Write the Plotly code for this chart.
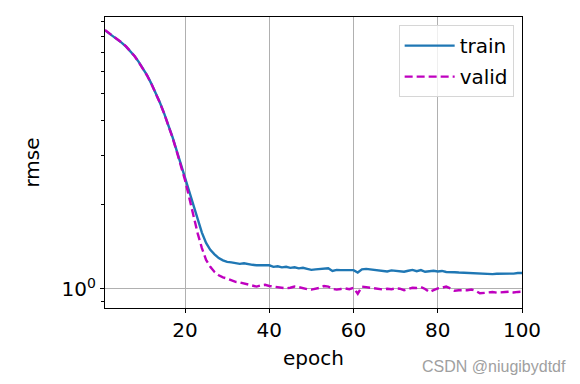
import plotly.graph_objects as go

epochs = list(range(1, 101))

train_rmse = [
    8.40, 8.20, 8.00, 7.80, 7.58, 7.35, 7.08, 6.80, 6.48, 6.15,
    5.80, 5.42, 5.04, 4.65, 4.26, 3.88, 3.50, 3.13, 2.79, 2.48,
    2.22, 1.98, 1.77, 1.59, 1.46, 1.38, 1.33, 1.29, 1.265, 1.25,
    1.245, 1.24, 1.23, 1.235, 1.225, 1.22, 1.215, 1.215, 1.21, 1.215,
    1.20, 1.205, 1.195, 1.20, 1.19, 1.195, 1.185, 1.19, 1.18, 1.17,
    1.175, 1.18, 1.185, 1.185, 1.16, 1.17, 1.168, 1.17, 1.165, 1.168,
    1.145, 1.175, 1.18, 1.175, 1.172, 1.17, 1.16, 1.155, 1.165, 1.16,
    1.158, 1.152, 1.162, 1.17, 1.158, 1.168, 1.152, 1.155, 1.162, 1.155,
    1.16, 1.15, 1.152, 1.148, 1.145, 1.143, 1.14, 1.138, 1.135, 1.13,
    1.132, 1.128, 1.13, 1.133, 1.132, 1.135, 1.136, 1.135, 1.14, 1.14,
]

valid_rmse = [
    8.42, 8.21, 8.02, 7.82, 7.59, 7.36, 7.09, 6.80, 6.47, 6.14,
    5.79, 5.41, 5.03, 4.64, 4.25, 3.87, 3.49, 3.11, 2.76, 2.45,
    2.12, 1.82, 1.58, 1.40, 1.27, 1.20, 1.15, 1.12, 1.10, 1.09,
    1.075, 1.06, 1.055, 1.045, 1.035, 1.025, 1.02, 1.03, 1.035, 1.025,
    1.02, 1.015, 1.01, 1.005, 1.01, 1.02, 1.015, 1.005, 0.998, 0.995,
    1.0, 1.01, 1.025, 1.02, 1.0, 0.995, 1.0, 1.005, 0.998, 1.01,
    0.962, 1.02, 1.015, 1.01, 1.005, 1.0, 0.995, 1.002, 0.998, 1.005,
    1.002, 0.99, 1.0, 1.01, 1.008, 1.015, 1.0, 0.975, 0.99, 1.005,
    1.01, 1.02, 1.005, 0.985, 0.99, 0.988, 0.99, 0.995, 0.985, 0.965,
    0.97, 0.972, 0.975, 0.97, 0.975, 0.975, 0.978, 0.972, 0.976, 0.978,
]

x_ticks = [20, 40, 60, 80, 100]
y_major = [1]
y_major_text = ["10<sup>0</sup>"]
y_minor = [0.9, 2, 3, 4, 5, 6, 7, 8, 9]

FONT = "DejaVu Sans"

fig = go.Figure()
fig.add_trace(go.Scatter(
    x=epochs, y=train_rmse, mode="lines", name="train",
    line=dict(color="#1f77b4", width=2.4), legendgroup="a",
))
fig.add_trace(go.Scatter(
    x=epochs, y=valid_rmse, mode="lines", name="valid",
    line=dict(color="#bf00bf", width=2.4, dash="8px,4px"), legendgroup="b",
))

# page body adds an 8px offset; plot area targeted at x 105-522, y 17-308
fig.update_layout(
    width=580, height=384,
    margin=dict(l=97, r=66, t=9, b=84, autoexpand=False),
    paper_bgcolor="white", plot_bgcolor="white",
    font=dict(family=FONT, size=20, color="black"),
    showlegend=True,
    legend=dict(
        x=0.98, y=0.972, xanchor="right", yanchor="top",
        bgcolor="rgba(255,255,255,0.8)", bordercolor="#d6d6d6", borderwidth=1,
        font=dict(family=FONT, size=20), traceorder="grouped", tracegroupgap=2,
        itemwidth=50,
    ),
    xaxis=dict(
        range=[1, 100], tickvals=x_ticks, ticks="outside", ticklen=4,
        tickcolor="black", showline=True, linecolor="black", linewidth=1.2,
        mirror=True, showgrid=True, gridcolor="#b0b0b0", gridwidth=1,
        zeroline=False, automargin=False,
        title=dict(text="epoch", standoff=9, font=dict(size=20)),
    ),
    yaxis=dict(
        type="log", range=[-0.068, 0.972],
        tickvals=y_major, ticktext=y_major_text, ticks="outside", ticklen=4,
        tickcolor="black", showline=True, linecolor="black", linewidth=1.2,
        mirror=True, showgrid=True, gridcolor="#b0b0b0", gridwidth=1,
        zeroline=False, automargin=False,
        minor=dict(tickvals=y_minor, ticks="outside", ticklen=2.5,
                   tickcolor="black", showgrid=False),
        title=dict(text="rmse", standoff=16, font=dict(size=20)),
    ),
    annotations=[dict(
        text="CSDN @niugibydtdf", xref="paper", yref="paper",
        x=(568 - 105) / 417, y=-(366 - 308) / 291, xanchor="right", yanchor="middle",
        showarrow=False, font=dict(family="Liberation Sans", size=16, color="#a0a0a0"),
    )],
)

fig.write_html("out.html")
